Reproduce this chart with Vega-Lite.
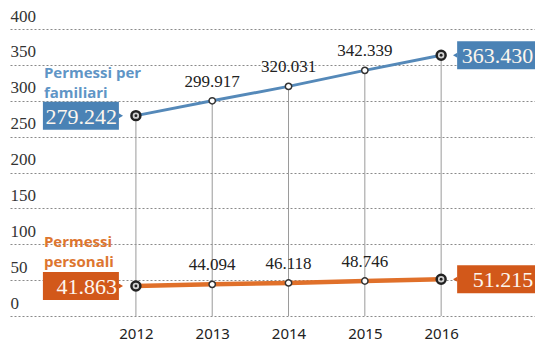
{
  "$schema": "https://vega.github.io/schema/vega-lite/v6.json",
  "width": 525,
  "height": 287,
  "autosize": {"type": "none"},
  "padding": {"left": 10, "top": 29, "right": 0, "bottom": 31},
  "background": "white",
  "config": {"view": {"stroke": null}},
  "datasets": {
    "main": [
      {"series": "familiari", "year": 2012, "value": 279.242},
      {"series": "familiari", "year": 2013, "value": 299.917},
      {"series": "familiari", "year": 2014, "value": 320.031},
      {"series": "familiari", "year": 2015, "value": 342.339},
      {"series": "familiari", "year": 2016, "value": 363.43},
      {"series": "personali", "year": 2012, "value": 41.863},
      {"series": "personali", "year": 2013, "value": 44.094},
      {"series": "personali", "year": 2014, "value": 46.118},
      {"series": "personali", "year": 2015, "value": 48.746},
      {"series": "personali", "year": 2016, "value": 51.215}
    ],
    "titles": [
      {"series": "familiari", "year": 2012, "value": 339, "label": ["Permessi per", "familiari"]},
      {"series": "personali", "year": 2012, "value": 103, "label": ["Permessi", "personali"]}
    ]
  },
  "layer": [
    {
      "data": {"name": "main"},
      "transform": [{"filter": "datum.series === 'familiari'"}],
      "mark": {"type": "rule", "color": "#9a9a9a", "strokeWidth": 1},
      "encoding": {
        "x": {"field": "year", "type": "quantitative", "scale": {"domain": [2010.35, 2017.23], "nice": false, "zero": false},
          "axis": {"values": [2012, 2013, 2014, 2015, 2016], "tickCount": 20, "format": "d", "domain": false, "ticks": false, "tickSize": 0, "grid": false, "title": null, "labelFont": "Noto Sans", "labelFontSize": 15, "labelColor": "#222", "labelPadding": 10, "labelFlush": false, "labelOverlap": false}},
        "y": {"field": "value", "type": "quantitative", "scale": {"domain": [0, 400], "nice": false},
          "axis": {"values": [0, 50, 100, 150, 200, 250, 300, 350, 400], "tickCount": 20, "domain": false, "ticks": false, "tickSize": 0, "grid": true, "gridColor": "#8a8a8a", "gridDash": [2, 2], "gridWidth": 1, "title": null, "labelAlign": "left", "labelBaseline": "bottom", "labelOffset": -4, "labelPadding": 0, "labelFont": "Liberation Serif", "labelFontSize": 17, "labelColor": "#333", "labelFlush": false, "labelOverlap": false}},
        "y2": {"datum": 0}
      }
    },
    {
      "data": {"name": "main"},
      "mark": {"type": "line"},
      "encoding": {
        "x": {"field": "year", "type": "quantitative"},
        "y": {"field": "value", "type": "quantitative"},
        "color": {"field": "series", "type": "nominal", "scale": {"domain": ["familiari", "personali"], "range": ["#5589b9", "#e0702a"]}, "legend": null},
        "strokeWidth": {"field": "series", "type": "nominal", "scale": {"domain": ["familiari", "personali"], "range": [3, 4.5]}, "legend": null}
      }
    },
    {
      "data": {"name": "main"},
      "transform": [{"filter": "datum.year > 2012 && datum.year < 2016"}],
      "mark": {"type": "point", "filled": true, "fill": "white", "stroke": "#333", "strokeWidth": 1.5, "size": 40, "opacity": 1},
      "encoding": {
        "x": {"field": "year", "type": "quantitative"},
        "y": {"field": "value", "type": "quantitative"}
      }
    },
    {
      "data": {"name": "main"},
      "transform": [{"filter": "datum.year === 2012 || datum.year === 2016"}],
      "mark": {"type": "point", "filled": true, "fill": "#d0d0d0", "stroke": "#222", "strokeWidth": 2.5, "size": 80, "opacity": 1},
      "encoding": {
        "x": {"field": "year", "type": "quantitative"},
        "y": {"field": "value", "type": "quantitative"}
      }
    },
    {
      "data": {"name": "main"},
      "transform": [{"filter": "datum.year === 2012 || datum.year === 2016"}],
      "mark": {"type": "point", "filled": true, "fill": "#222", "size": 8, "opacity": 1},
      "encoding": {
        "x": {"field": "year", "type": "quantitative"},
        "y": {"field": "value", "type": "quantitative"}
      }
    },
    {
      "data": {"name": "main"},
      "transform": [{"filter": "datum.year === 2012"}],
      "mark": {"type": "rect", "xOffset": -93, "x2Offset": -17, "yOffset": -14, "y2Offset": 14},
      "encoding": {
        "x": {"field": "year", "type": "quantitative"},
        "x2": {"field": "year"},
        "y": {"field": "value", "type": "quantitative"},
        "y2": {"field": "value"},
        "color": {"field": "series", "type": "nominal", "scale": {"domain": ["familiari", "personali"], "range": ["#4a82b5", "#d2581a"]}, "legend": null}
      }
    },
    {
      "data": {"name": "main"},
      "transform": [{"filter": "datum.year === 2016"}],
      "mark": {"type": "rect", "xOffset": 16, "x2Offset": 95, "yOffset": -14, "y2Offset": 14},
      "encoding": {
        "x": {"field": "year", "type": "quantitative"},
        "x2": {"field": "year"},
        "y": {"field": "value", "type": "quantitative"},
        "y2": {"field": "value"},
        "color": {"field": "series", "type": "nominal", "scale": {"domain": ["familiari", "personali"], "range": ["#4a82b5", "#d2581a"]}, "legend": null}
      }
    },
    {
      "data": {"name": "main"},
      "transform": [{"filter": "datum.year === 2012"}],
      "mark": {"type": "point", "shape": "triangle-right", "filled": true, "size": 25, "xOffset": -15, "opacity": 1},
      "encoding": {
        "x": {"field": "year", "type": "quantitative"},
        "y": {"field": "value", "type": "quantitative"},
        "color": {"field": "series", "type": "nominal", "scale": {"domain": ["familiari", "personali"], "range": ["#4a82b5", "#d2581a"]}, "legend": null}
      }
    },
    {
      "data": {"name": "main"},
      "transform": [{"filter": "datum.year === 2016"}],
      "mark": {"type": "point", "shape": "triangle-left", "filled": true, "size": 25, "xOffset": 14, "opacity": 1},
      "encoding": {
        "x": {"field": "year", "type": "quantitative"},
        "y": {"field": "value", "type": "quantitative"},
        "color": {"field": "series", "type": "nominal", "scale": {"domain": ["familiari", "personali"], "range": ["#4a82b5", "#d2581a"]}, "legend": null}
      }
    },
    {
      "data": {"name": "main"},
      "transform": [{"filter": "datum.year === 2012"}],
      "mark": {"type": "text", "align": "right", "baseline": "middle", "dx": -19, "dy": 1, "font": "Liberation Serif", "fontSize": 22, "fill": "#fdf6ee"},
      "encoding": {
        "x": {"field": "year", "type": "quantitative"},
        "y": {"field": "value", "type": "quantitative"},
        "text": {"field": "value", "type": "quantitative", "format": ".3f"}
      }
    },
    {
      "data": {"name": "main"},
      "transform": [{"filter": "datum.year === 2016"}],
      "mark": {"type": "text", "align": "right", "baseline": "middle", "dx": 92, "dy": 1, "font": "Liberation Serif", "fontSize": 22, "fill": "#fdf6ee"},
      "encoding": {
        "x": {"field": "year", "type": "quantitative"},
        "y": {"field": "value", "type": "quantitative"},
        "text": {"field": "value", "type": "quantitative", "format": ".3f"}
      }
    },
    {
      "data": {"name": "main"},
      "transform": [{"filter": "datum.year > 2012 && datum.year < 2016"}],
      "mark": {"type": "text", "align": "center", "baseline": "middle", "dy": -19, "font": "Liberation Serif", "fontSize": 17, "fill": "#222"},
      "encoding": {
        "x": {"field": "year", "type": "quantitative"},
        "y": {"field": "value", "type": "quantitative"},
        "text": {"field": "value", "type": "quantitative", "format": ".3f"}
      }
    },
    {
      "data": {"name": "titles"},
      "mark": {"type": "text", "align": "left", "baseline": "middle", "dx": -92, "font": "Open Sans", "fontWeight": "bold", "fontSize": 15, "lineHeight": 20},
      "encoding": {
        "x": {"field": "year", "type": "quantitative"},
        "y": {"field": "value", "type": "quantitative"},
        "text": {"field": "label"},
        "color": {"field": "series", "type": "nominal", "scale": {"domain": ["familiari", "personali"], "range": ["#5f95c6", "#dd7630"]}, "legend": null}
      }
    }
  ],
  "resolve": {"scale": {"color": "independent"}}
}
